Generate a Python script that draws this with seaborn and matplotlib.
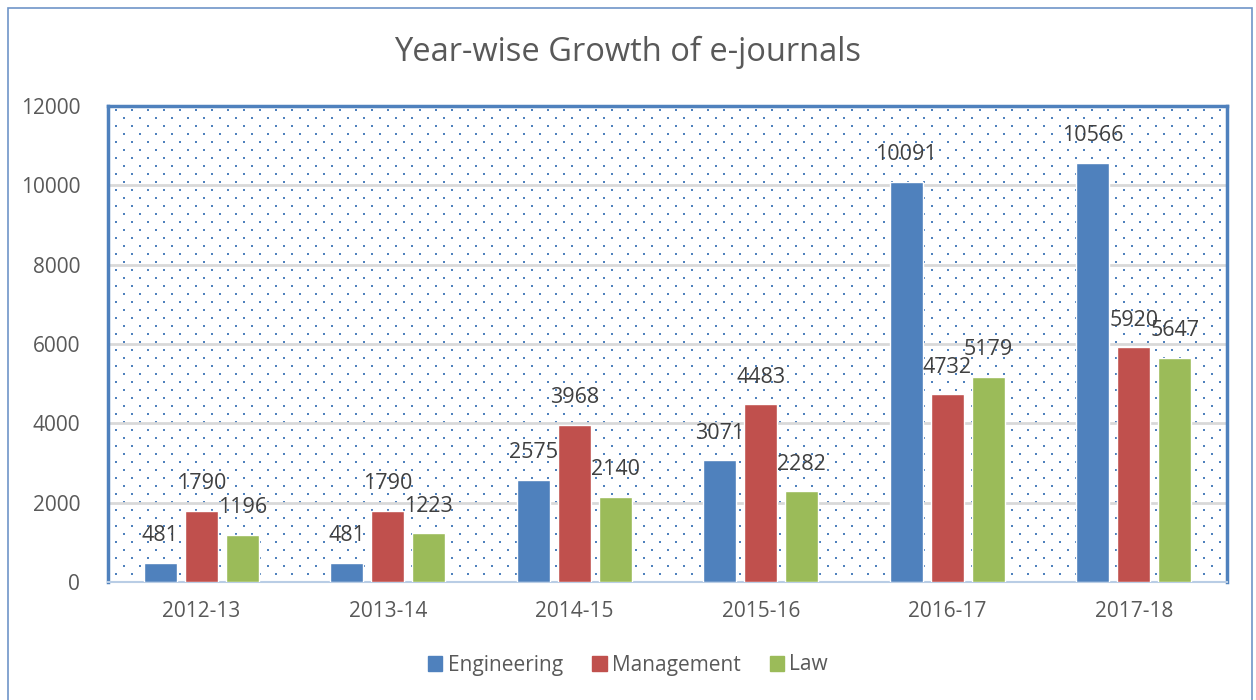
import numpy as np
import pandas as pd
import matplotlib.pyplot as plt
import seaborn as sns
from matplotlib.patches import Rectangle

# chart data
years = ['2012-13', '2013-14', '2014-15', '2015-16', '2016-17', '2017-18']
engineering = [481, 481, 2575, 3071, 10091, 10566]
management = [1790, 1790, 3968, 4483, 4732, 5920]
law = [1196, 1223, 2140, 2282, 5179, 5647]
series_names = ['Engineering', 'Management', 'Law']
colors = ['#4F81BD', '#C0504D', '#9BBB59']

df = pd.DataFrame({
    'Year': years * 3,
    'Value': engineering + management + law,
    'Subject': [s for s in series_names for _ in years],
})

sns.set_theme(style='white')
plt.rcParams['font.family'] = ['Open Sans', 'DejaVu Sans']

fig = plt.figure(figsize=(12.56, 7), dpi=100)
ax = fig.add_axes([108 / 1256, 1 - 582 / 700, 1119 / 1256, 476 / 700])

# dotted background pattern of the plot area
xs, ys = [], []
w_px, h_px = 1119, 476
for row, yp in enumerate(np.arange(4, h_px, 8)):
    off = 0 if row % 2 == 0 else 8
    for xp in np.arange(8 + off, w_px, 16):
        xs.append(xp / w_px)
        ys.append(1 - yp / h_px)
ax.scatter(xs, ys, s=3.2, marker='s', color='#4F81BD', linewidths=0,
           transform=ax.transAxes, zorder=0)

sns.barplot(data=df, x='Year', y='Value', hue='Subject', palette=colors,
            width=0.66, gap=0.2, ax=ax, zorder=3, saturation=1)

for cont in ax.containers:
    ax.bar_label(cont, padding=12, fontsize=15.5, color='#404040')

ax.set_ylim(0, 12000)
ax.set_yticks(range(0, 12001, 2000))
ax.yaxis.grid(True, color='#d9d9d9', linewidth=2)
ax.set_axisbelow(True)
ax.set_xlabel('')
ax.set_ylabel('')
ax.tick_params(axis='both', labelsize=15, labelcolor='#595959', length=0)
ax.tick_params(axis='x', pad=14)
ax.tick_params(axis='y', pad=20)

for side in ['left', 'top', 'right']:
    ax.spines[side].set_color('#4F81BD')
    ax.spines[side].set_linewidth(2.5)
ax.spines['bottom'].set_color('#b9cde5')
ax.spines['bottom'].set_linewidth(1.5)

ax.legend_.remove()
handles = [Rectangle((0, 0), 1, 1, color=c) for c in colors]
fig.legend(handles, series_names, loc='center', bbox_to_anchor=(0.5, 1 - 665 / 700),
           ncol=3, frameon=False, fontsize=15, handlelength=0.7, handleheight=0.7,
           handletextpad=0.25, columnspacing=1.4, labelcolor='#595959')

fig.text(0.5, 1 - 52 / 700, 'Year-wise Growth of e-journals', ha='center', va='center',
         fontsize=23.5, color='#595959')

# outer chart frame
fig.patches.append(Rectangle((8 / 1256, -0.01), 1244 / 1256, 692 / 700 + 0.01,
                             transform=fig.transFigure, fill=False,
                             edgecolor='#6f95c8', linewidth=1.2))

fig.savefig('out.png', dpi=100)
